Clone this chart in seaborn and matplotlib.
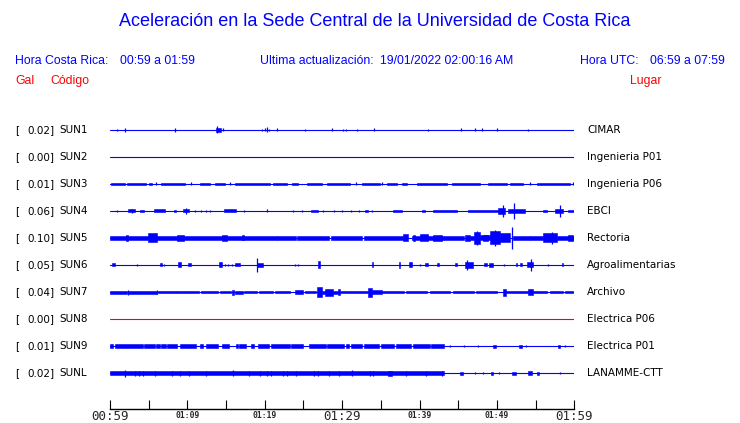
import matplotlib
matplotlib.use("Agg")
import matplotlib.pyplot as plt
import numpy as np
import pandas as pd
import seaborn as sns

# stations, top to bottom
stations = ["SUN1", "SUN2", "SUN3", "SUN4", "SUN5", "SUN6", "SUN7", "SUN8", "SUN9", "SUNL"]
places = ["CIMAR", "Ingenieria P01", "Ingenieria P06", "EBCI", "Rectoria",
          "Agroalimentarias", "Archivo", "Electrica P06", "Electrica P01", "LANAMME-CTT"]
peak_gal = ["0.02", "0.00", "0.01", "0.06", "0.10", "0.05", "0.04", "0.00", "0.01", "0.02"]
trace_colors = ["#0000ff"] * 7 + ["#ff0000"] + ["#0000ff"] * 2

# trace envelopes: minutes after 00:59, half amplitude (px)
# bands: (start, end, half amplitude); spikes: (minute, half amplitude)
sun1_bands = [(13.7, 14.3, 2)]
sun1_spikes = [(0.9, 1), (1.9, 2), (8.4, 2), (13.8, 3.5), (14.6, 1.5), (19.6, 1), (20.0, 1.5),
               (20.3, 2.5), (20.5, 1), (21.6, 1.5), (25.2, 1), (28.7, 1.5), (30.1, 1), (30.5, 1),
               (31.9, 1), (34.1, 1.5), (41.1, 1), (45.4, 1.5), (47.2, 1.5), (48.1, 1.5),
               (50.0, 1.5), (54.0, 1)]

sun2_bands = []
sun2_spikes = []

sun3_bands = [(0.1, 1.9, 1.3), (2.2, 4.7, 1.3), (5.0, 5.4, 1.3), (6.6, 9.7, 1.3), (11.6, 12.9, 1.3),
              (13.6, 14.9, 1.3), (16.2, 20.7, 1.3), (21.1, 22.9, 1.3), (23.5, 24.3, 1.3),
              (25.5, 27.4, 1.3), (28.0, 31.0, 1.3), (32.6, 34.9, 1.3), (35.8, 37.1, 1.3),
              (37.7, 38.4, 1.3), (39.7, 43.6, 1.3), (44.2, 47.8, 1.3), (48.8, 51.3, 1.3),
              (51.7, 53.4, 1.3), (55.2, 59.4, 1.3)]
sun3_spikes = [(5.9, 1.5), (10.5, 1.5), (15.5, 1.5), (31.8, 1.5), (35.2, 1.5), (54.3, 1.5), (59.8, 1.5)]

sun4_bands = [(2.3, 3.2, 1.5), (3.9, 4.4, 1.2), (5.7, 7.1, 1.5), (8.3, 8.5, 1.0), (9.4, 10.2, 1.5),
              (14.7, 16.3, 1.5), (26.0, 26.9, 1.0), (33.0, 33.3, 1.0), (36.6, 37.7, 1.2),
              (40.3, 40.7, 1.0), (41.7, 44.8, 1.2), (46.3, 50.1, 1.3), (50.1, 51.0, 3.0),
              (51.4, 53.6, 1.8), (56.0, 56.5, 1.2), (57.5, 58.5, 2.0), (59.2, 60.0, 1.3)]
sun4_spikes = [(0.9, 1), (2.8, 2), (9.8, 3.3), (11.0, 1), (11.8, 1), (12.4, 1), (12.9, 1),
               (17.3, 1), (20.3, 1.5), (23.6, 1), (24.8, 1), (27.5, 1), (28.9, 1), (30.0, 1),
               (31.1, 1), (32.2, 1), (33.9, 1), (50.8, 6), (52.2, 8), (58.2, 6)]

sun5_bands = [(0.0, 21.6, 2.0), (2.1, 2.3, 2.8), (4.9, 6.1, 4.5), (8.7, 9.6, 3.0), (14.5, 15.1, 3.0),
              (17.1, 17.3, 2.5), (21.6, 24.0, 1.7), (24.2, 28.3, 1.7), (28.5, 32.6, 1.7),
              (32.8, 37.9, 2.0), (37.9, 38.5, 3.5), (39.0, 43.1, 2.2), (39.1, 39.4, 3.0),
              (40.1, 41.1, 3.5), (41.7, 42.9, 3.0), (43.1, 45.7, 1.7), (45.9, 46.5, 3.0),
              (46.5, 47.0, 2.0), (47.0, 47.8, 6.0), (47.8, 49.1, 2.5), (48.2, 48.8, 3.0),
              (49.1, 50.4, 6.5), (50.4, 51.7, 4.5), (52.1, 54.3, 2.0), (54.3, 56.0, 1.7),
              (56.0, 57.7, 4.5), (57.7, 60.0, 2.0), (59.2, 59.8, 3.0)]
sun5_spikes = [(52.0, 11), (57.1, 6), (47.4, 7), (49.8, 8)]

sun6_bands = [(0.2, 0.6, 1.5), (6.5, 6.7, 1.5), (8.8, 9.2, 2.5), (10.1, 10.5, 1.5), (14.1, 14.5, 2.5),
              (16.2, 16.8, 1.5), (19.0, 19.8, 2.0), (26.9, 27.1, 3.5), (33.9, 34.0, 2.5),
              (37.3, 37.5, 3.0), (38.6, 39.0, 2.5), (40.7, 41.1, 1.5), (42.3, 42.5, 1.5),
              (44.6, 44.8, 1.5), (45.9, 46.9, 3.0), (48.3, 48.7, 1.5), (49.0, 49.5, 2.0),
              (52.5, 52.6, 1.5), (53.0, 53.2, 1.5), (53.9, 54.7, 2.5), (58.4, 58.5, 1.5)]
sun6_spikes = [(3.5, 1), (7.0, 1.2), (14.9, 1), (15.3, 1.2), (15.8, 1), (18.95, 7), (23.9, 1),
               (24.3, 1), (40.1, 1), (46.1, 5), (50.9, 1), (54.4, 6), (56.6, 1)]

sun7_bands = [(0.0, 2.2, 1.5), (2.3, 6.1, 1.5), (6.2, 8.7, 1.2), (8.7, 11.5, 1.3), (11.7, 14.0, 1.3),
              (14.2, 15.7, 1.3), (15.8, 16.0, 2.5), (16.2, 17.2, 1.5), (17.3, 19.0, 1.2),
              (19.3, 21.0, 1.2), (21.3, 23.2, 1.2), (23.9, 24.9, 2.0), (25.2, 26.6, 1.2),
              (26.8, 27.4, 5.0), (27.4, 27.8, 1.5), (27.8, 28.8, 3.5), (28.8, 29.5, 1.5),
              (29.5, 29.7, 3.0), (29.7, 33.3, 1.3), (33.3, 33.9, 4.5), (33.9, 35.2, 2.0),
              (35.2, 38.0, 1.3), (38.3, 41.0, 1.3), (41.3, 44.0, 1.3), (44.3, 47.0, 1.3),
              (47.3, 50.0, 1.3), (50.8, 51.2, 3.5), (51.2, 54.0, 1.3), (54.0, 54.7, 3.0),
              (54.7, 56.5, 1.3), (56.8, 58.5, 1.3), (58.8, 59.8, 1.3)]
sun7_spikes = [(2.3, 2.5), (6.1, 2)]

sun8_bands = []
sun8_spikes = []

sun9_bands = [(0.0, 0.4, 1.7), (0.6, 4.2, 1.7), (4.4, 5.8, 1.7), (6.0, 6.4, 1.7), (6.6, 7.2, 1.7),
              (7.4, 8.6, 1.7), (9.1, 11.1, 1.7), (11.6, 12.0, 1.7), (12.4, 13.9, 1.7),
              (14.5, 15.4, 1.7), (16.3, 16.5, 1.7), (16.7, 17.6, 1.7), (18.2, 18.6, 1.7),
              (19.1, 20.6, 1.7), (20.8, 23.2, 1.7), (23.4, 24.9, 1.7), (25.7, 27.9, 1.7),
              (28.1, 30.3, 1.7), (30.5, 30.9, 1.7), (31.1, 32.6, 1.7), (32.8, 34.8, 1.7),
              (35.0, 36.7, 1.7), (36.9, 38.9, 1.7), (39.1, 41.3, 1.7), (41.5, 43.1, 1.7),
              (49.5, 49.9, 1.5), (52.9, 53.2, 1.5), (57.9, 58.2, 1.5)]
sun9_spikes = [(43.9, 1.2), (45.7, 1), (47.6, 1), (53.7, 1.2), (58.8, 1.2)]

sunl_bands = [(0.0, 43.1, 1.7), (35.9, 36.4, 2.5), (45.2, 45.6, 1.5), (49.3, 49.5, 1.5),
              (52.0, 52.5, 1.5), (54.0, 54.5, 1.7), (55.2, 55.4, 1.5)]
sunl_spikes = [(1.9, 3.5), (3.2, 2.5), (3.8, 2.5), (4.3, 2.5), (5.8, 2.5), (8.0, 2.5), (9.0, 2.5),
               (10.2, 2.5), (12.4, 2.5), (15.9, 3), (17.9, 2.5), (19.4, 2.5), (20.3, 2.5),
               (20.8, 2.5), (22.4, 2.5), (22.9, 2.5), (24.1, 2.5), (26.3, 2.5), (26.9, 2.5),
               (28.3, 2.5), (29.6, 2.5), (31.3, 3), (33.6, 2.5), (34.0, 2.5), (38.3, 2.5),
               (40.8, 2.5), (42.9, 2.5), (47.2, 1.2), (48.2, 1), (50.3, 1), (58.2, 1)]

all_bands = [sun1_bands, sun2_bands, sun3_bands, sun4_bands, sun5_bands,
             sun6_bands, sun7_bands, sun8_bands, sun9_bands, sunl_bands]
all_spikes = [sun1_spikes, sun2_spikes, sun3_spikes, sun4_spikes, sun5_spikes,
              sun6_spikes, sun7_spikes, sun8_spikes, sun9_spikes, sunl_spikes]

big_ticks = [0, 30, 60]
big_labels = ["00:59", "01:29", "01:59"]
small_ticks = [5, 10, 15, 20, 25, 35, 40, 45, 50, 55]
small_labels = ["", "01:09", "", "01:19", "", "", "01:39", "", "01:49", ""]

BLUE = "#0000ff"
RED = "#ff0000"
ROW_PX = 27.0  # one row = 27 px, amplitudes are given in px

sns.set_style("white")
plt.rcParams["font.family"] = ["Liberation Sans", "DejaVu Sans"]

W, H = 740, 423
fig = plt.figure(figsize=(W / 100, H / 100), dpi=100)
ax = fig.add_axes([110 / W, (H - 409) / H, 464.3 / W, 291 / H])
ax.patch.set_alpha(0)

# baselines
base = pd.DataFrame({
    "t": np.tile([0.0, 60.0], len(stations)),
    "row": np.repeat(np.arange(len(stations)), 2).astype(float),
    "station": np.repeat(stations, 2),
})
sns.lineplot(data=base, x="t", y="row", hue="station", palette=trace_colors,
             estimator=None, legend=False, lw=0.8, ax=ax)

for i, (bands, spikes) in enumerate(zip(all_bands, all_spikes)):
    c = trace_colors[i]
    if bands:
        b = np.array(bands, dtype=float)
        amp = b[:, 2] / ROW_PX
        ax.bar(b[:, 0], 2 * amp, width=b[:, 1] - b[:, 0], bottom=i - amp, align="edge",
               color=c, edgecolor=c, lw=0.4)
    if spikes:
        s = np.array(spikes, dtype=float)
        amp = s[:, 1] / ROW_PX
        ax.vlines(s[:, 0], i - amp, i + amp, color=c, lw=0.9)

ax.set_xlim(0, 60)
ax.set_ylim(10.333, -0.444)
ax.set_yticks([])
ax.set_xlabel("")
ax.set_ylabel("")
for side in ["left", "top", "right"]:
    ax.spines[side].set_visible(False)
ax.spines["bottom"].set_color("black")
ax.spines["bottom"].set_linewidth(1.0)

ax.set_xticks(big_ticks)
ax.set_xticklabels(big_labels, family="DejaVu Sans Mono", fontsize=9)
ax.set_xticks(small_ticks, minor=True)
ax.set_xticklabels(small_labels, minor=True, family="DejaVu Sans Mono",
                   fontsize=5.8, fontweight="bold")
ax.tick_params(axis="x", which="both", direction="in", length=6.3, width=0.8,
               color="black", pad=1.5, bottom=True)
ax.tick_params(axis="x", which="major", pad=1.0)

# left and right labels
lab = dict(fontsize=7.5, family="DejaVu Sans", va="center", ha="left", color="black")
for i in range(len(stations)):
    y = 1 - (130 + ROW_PX * i) / H
    fig.text(15 / W, y, "[", **lab)
    fig.text(27 / W, y, peak_gal[i] + "]", **lab)
    fig.text(59 / W, y, stations[i], **lab)
    fig.text(587 / W, y, places[i], **lab)

# header
fig.text(375 / W, 1 - 22 / H, "Aceleración en la Sede Central de la Universidad de Costa Rica",
         fontsize=13, color=BLUE, ha="center", va="center")
hy = 1 - 60.5 / H
fig.text(15 / W, hy, "Hora Costa Rica:", fontsize=8.8, color=BLUE, va="center")
fig.text(120.5 / W, hy, "00:59 a 01:59", fontsize=8.8, color=BLUE, va="center")
fig.text(260 / W, hy, "Ultima actualización:", fontsize=8.8, color=BLUE, va="center")
fig.text(380.5 / W, hy, "19/01/2022 02:00:16 AM", fontsize=8.8, color=BLUE, va="center")
fig.text(580.5 / W, hy, "Hora UTC:", fontsize=8.8, color=BLUE, va="center")
fig.text(650.5 / W, hy, "06:59 a 07:59", fontsize=8.8, color=BLUE, va="center")
ry = 1 - 81 / H
fig.text(15 / W, ry, "Gal", fontsize=8.8, color=RED, va="center")
fig.text(50 / W, ry, "Código", fontsize=8.8, color=RED, va="center")
fig.text(630 / W, ry, "Lugar", fontsize=8.8, color=RED, va="center")

fig.savefig("out.png", dpi=100)
